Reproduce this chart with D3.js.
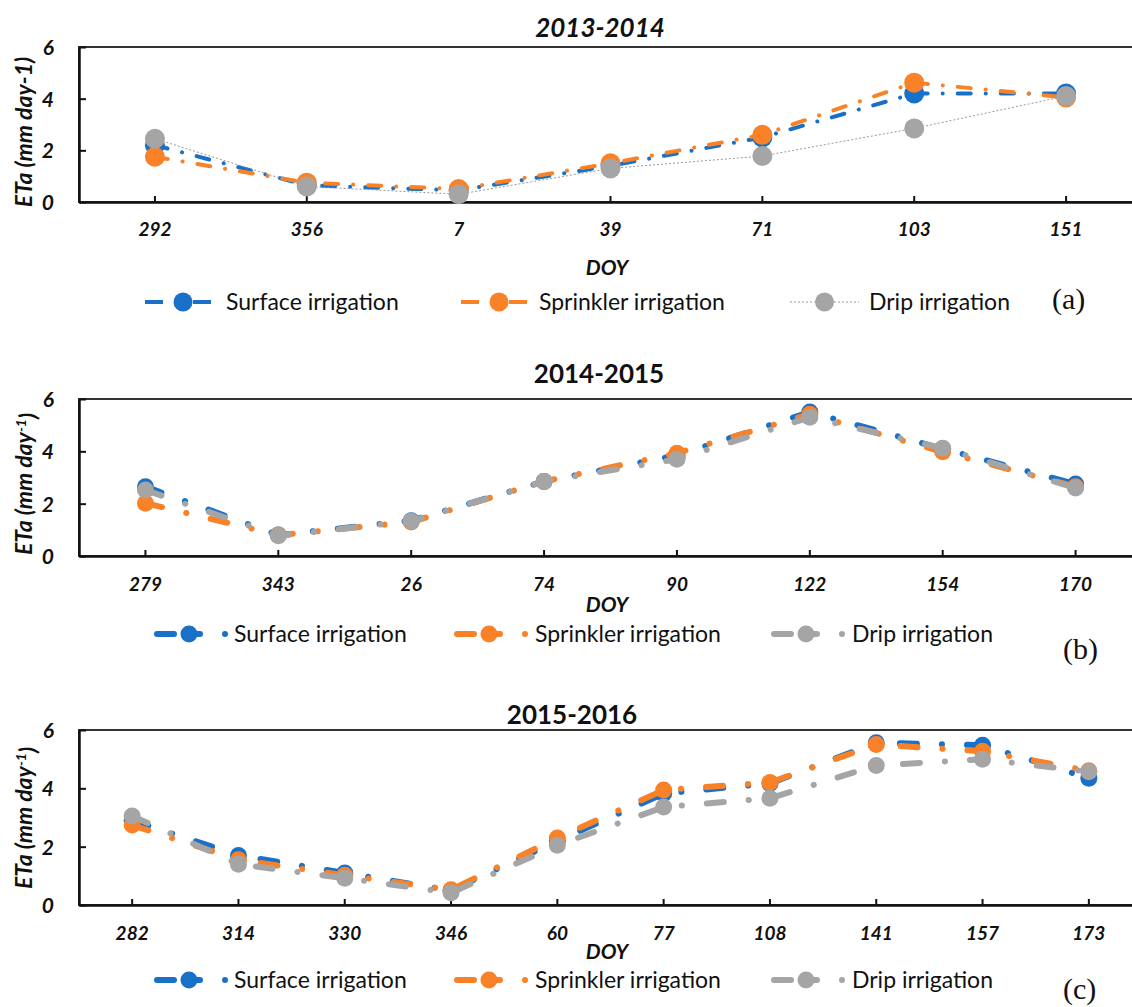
<!DOCTYPE html>
<html>
<head>
<meta charset="utf-8">
<script src="https://cdn.jsdelivr.net/npm/d3@7"></script>
<style>
  body { margin: 0; background: #fff; }
  svg { display: block; }
  .tick text { font-family: Lato, sans-serif; font-weight: bold; font-style: italic; font-size: 19px; fill: #111; }
  .lab { font-family: Lato, sans-serif; font-weight: bold; font-style: italic; fill: #111; }
  .leg { font-family: Lato, sans-serif; font-size: 23px; fill: #111; }
  .panel-tag { font-family: "Liberation Serif", serif; font-size: 30px; fill: #111; }
</style>
</head>
<body>
<script>
// series names + colours
const seriesNames = ["Surface irrigation", "Sprinkler irrigation", "Drip irrigation"]
const colors = ["#1870c8", "#f98228", "#a5a5a5"]
const yTicks = [0, 2, 4, 6]

// (a) 2013-2014
const doyA = ["292", "356", "7", "39", "71", "103", "151"]
const surfaceA = [2.2, 0.65, 0.45, 1.4, 2.5, 4.2, 4.2]
const sprinklerA = [1.75, 0.75, 0.5, 1.5, 2.6, 4.62, 4.05]
const dripA = [2.45, 0.6, 0.3, 1.3, 1.78, 2.85, 4.1]

// (b) 2014-2015
const doyB = ["279", "343", "26", "74", "90", "122", "154", "170"]
const surfaceB = [2.65, 0.8, 1.35, 2.85, 3.85, 5.5, 4.1, 2.75]
const sprinklerB = [2.02, 0.8, 1.3, 2.85, 3.93, 5.42, 3.98, 2.65]
const dripB = [2.52, 0.77, 1.33, 2.85, 3.7, 5.3, 4.12, 2.6]

// (c) 2015-2016
const doyC = ["282", "314", "330", "346", "60", "77", "108", "141", "157", "173"]
const surfaceC = [2.9, 1.7, 1.1, 0.5, 2.2, 3.82, 4.17, 5.56, 5.48, 4.35]
const sprinklerC = [2.74, 1.55, 1.02, 0.52, 2.3, 3.94, 4.2, 5.5, 5.27, 4.6]
const dripC = [3.05, 1.4, 0.92, 0.42, 2.05, 3.36, 3.66, 4.78, 5.0, 4.57]

const W = 1132, H = 1007
const LEFT = 79, RIGHT = 1142

const svg = d3.select("body").append("svg")
  .attr("width", W)
  .attr("height", H)

const panels = [
  {
    title: "2013-2014", titleItalic: true, titleX: 600, titleY: 37,
    top: 47, bottom: 202, doy: doyA, values: [surfaceA, sprinklerA, dripA],
    yLabel: ["ETa (mm day-1)", null], yLabelY: 132,
    doyY: 275, legY: 302, tag: "(a)", tagX: 1052, tagY: 309, style: "thin"
  },
  {
    title: "2014-2015", titleItalic: false, titleX: 599, titleY: 383,
    top: 399, bottom: 556, doy: doyB, values: [surfaceB, sprinklerB, dripB],
    yLabel: ["ETa (mm day", "-1"], yLabelY: 484,
    doyY: 612, legY: 634, tag: "(b)", tagX: 1063, tagY: 659, style: "thick"
  },
  {
    title: "2015-2016", titleItalic: false, titleX: 572, titleY: 724,
    top: 730, bottom: 905, doy: doyC, values: [surfaceC, sprinklerC, dripC],
    yLabel: ["ETa (mm day", "-1"], yLabelY: 818,
    doyY: 959, legY: 980, tag: "(c)", tagX: 1063, tagY: 999, style: "thick"
  }
]

function drawPanel(p) {
  const g = svg.append("g")

  const x = d3.scaleBand().domain(p.doy).range([LEFT, RIGHT])
  const y = d3.scaleLinear().domain([0, 6]).range([p.bottom, p.top])
  const cx = d => x(d) + x.bandwidth() / 2

  // frame
  g.append("rect")
    .attr("x", LEFT).attr("y", p.top)
    .attr("width", RIGHT - LEFT).attr("height", p.bottom - p.top)
    .attr("fill", "none").attr("stroke", "#333").attr("stroke-width", 2)

  const ya = g.append("g")
    .attr("transform", `translate(${LEFT},0)`)
    .call(d3.axisLeft(y).tickValues(yTicks).tickFormat(d3.format("d"))
      .tickSize(-7).tickSizeOuter(0).tickPadding(25))
  ya.select(".domain").attr("stroke", "#111").attr("stroke-width", 2.5)
  ya.selectAll(".tick line").attr("stroke", "#111").attr("stroke-width", 2)
  ya.selectAll(".tick text").attr("dy", "0.36em").style("font-size", "21px")

  const xa = g.append("g")
    .attr("transform", `translate(0,${p.bottom})`)
    .call(d3.axisBottom(x).tickSize(-6).tickSizeOuter(0).tickPadding(p.style == "thin" ? 21 : 22))
  xa.select(".domain").attr("stroke", "#111").attr("stroke-width", 2.5)
  xa.selectAll(".tick line").attr("stroke", "#111").attr("stroke-width", 2)

  // title
  g.append("text").attr("class", "lab")
    .attr("x", p.titleX).attr("y", p.titleY)
    .attr("text-anchor", "middle")
    .style("font-size", "26px")
    .style("font-style", p.titleItalic ? "italic" : "normal")
    .text(p.title)

  // y label
  const yl = g.append("text").attr("class", "lab")
    .attr("transform", `translate(32,${p.yLabelY}) rotate(-90)`)
    .attr("text-anchor", "middle")
    .style("font-size", "23px")
  yl.append("tspan").text(p.yLabel[0])
  if (p.yLabel[1]) {
    yl.append("tspan").attr("dy", "-0.45em").style("font-size", "14px").text(p.yLabel[1])
    yl.append("tspan").attr("dy", "0.45em").text(")")
  }

  // x label
  g.append("text").attr("class", "lab")
    .attr("x", 607).attr("y", p.doyY)
    .attr("text-anchor", "middle")
    .style("font-size", "21px")
    .text("DOY")

  // series
  p.values.forEach((vals, i) => {
    const pts = p.doy.map((d, k) => ({ doy: d, v: vals[k] }))
    const line = d3.line().x(d => cx(d.doy)).y(d => y(d.v))
    const path = g.append("path").datum(pts)
      .attr("d", line)
      .attr("fill", "none")
      .attr("stroke", colors[i])
      .attr("stroke-linecap", "round")
    if (p.style == "thin") {
      if (i == 2) {
        path.attr("stroke-width", 1).attr("stroke-dasharray", "2,2").attr("stroke-linecap", "butt").attr("stroke", "#999")
      } else {
        path.attr("stroke-width", 4).attr("stroke-dasharray", "13,15,0.1,15")
      }
    } else {
      path.attr("stroke-width", 6).attr("stroke-dasharray", "17,25,0.1,25")
    }
    g.selectAll(null).data(pts).enter().append("circle")
      .attr("cx", d => cx(d.doy)).attr("cy", d => y(d.v))
      .attr("r", p.style == "thin" ? 10 : 8.5)
      .attr("fill", colors[i])
  })

  // legend
  const ly = p.legY
  if (p.style == "thin") {
    const symX = [145, 461, 790], txtX = [226, 539, 869]
    seriesNames.forEach((name, i) => {
      const lg = g.append("g")
      const x0 = symX[i]
      if (i < 2) {
        lg.append("line").attr("x1", x0).attr("x2", x0 + 18).attr("y1", ly).attr("y2", ly)
          .attr("stroke", colors[i]).attr("stroke-width", 4)
        lg.append("line").attr("x1", x0 + 48).attr("x2", x0 + 66).attr("y1", ly).attr("y2", ly)
          .attr("stroke", colors[i]).attr("stroke-width", 4)
        lg.append("circle").attr("cx", x0 + 38).attr("cy", ly).attr("r", 9.5).attr("fill", colors[i])
      } else {
        lg.append("line").attr("x1", x0).attr("x2", x0 + 69).attr("y1", ly).attr("y2", ly)
          .attr("stroke", "#999").attr("stroke-width", 1).attr("stroke-dasharray", "2,2")
        lg.append("circle").attr("cx", x0 + 34.5).attr("cy", ly).attr("r", 9.5).attr("fill", colors[i])
      }
      lg.append("text").attr("class", "leg").attr("x", txtX[i]).attr("y", ly + 8).text(name)
    })
  } else {
    const symX = [154, 454, 771], txtX = [234, 535, 852]
    seriesNames.forEach((name, i) => {
      const lg = g.append("g")
      const x0 = symX[i]
      lg.append("line").attr("x1", x0 + 3).attr("x2", x0 + 20).attr("y1", ly).attr("y2", ly)
        .attr("stroke", colors[i]).attr("stroke-width", 6).attr("stroke-linecap", "round")
      lg.append("line").attr("x1", x0 + 40).attr("x2", x0 + 46).attr("y1", ly).attr("y2", ly)
        .attr("stroke", colors[i]).attr("stroke-width", 6).attr("stroke-linecap", "round")
      lg.append("circle").attr("cx", x0 + 35).attr("cy", ly).attr("r", 8.5).attr("fill", colors[i])
      lg.append("circle").attr("cx", x0 + 71).attr("cy", ly).attr("r", 3).attr("fill", colors[i])
      lg.append("text").attr("class", "leg").attr("x", txtX[i]).attr("y", ly + 8).text(name)
    })
  }

  g.append("text").attr("class", "panel-tag")
    .attr("x", p.tagX).attr("y", p.tagY)
    .text(p.tag)
}

panels.forEach(drawPanel)
</script>
</body>
</html>
